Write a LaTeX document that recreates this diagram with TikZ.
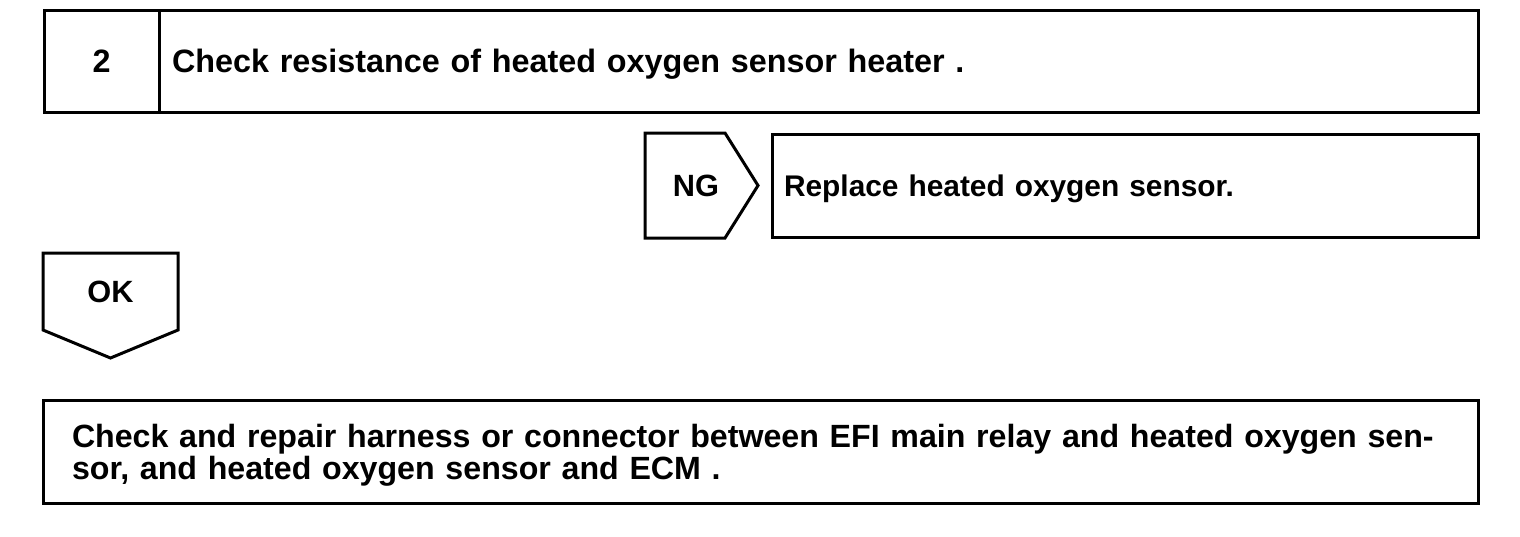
\documentclass[tikz,border=0pt]{standalone}
\usepackage{fontspec}
\setmainfont{Liberation Sans}
\usetikzlibrary{positioning}

\begin{document}
\begin{tikzpicture}[
        %Environment Cfg.
        x=0.2mm, y=-0.2mm,
        font=\bfseries\fontsize{18.4}{17}\selectfont,
        line width=0.6mm,
        %Environment Styles.
        sBox/.style={
            rectangle,
            draw=black,
            inner sep=0pt,
            outer sep=0pt,
            minimum height=20.4mm,
            text depth=0pt
            % fill=white,
        },
        tBox/.style={
            sBox,
            align=left,
            inner xsep=2.6mm
        },
        tag/.style={
            rectangle,
            inner sep=0pt,
            outer sep=0pt,
            font=\bfseries\fontsize{17.5}{17}\selectfont
        },
    ]
    \useasboundingbox (0,0) rectangle (1520,536);

    %Step header: number and title.
    \node[sBox, anchor=north west, minimum width=23mm](NUM-2) at (44,10) {2};
    \node[tBox, anchor=north west, text width=258.6mm](TITLE-2) at (NUM-2.north east)
        {Check resistance of heated oxygen sensor heater .};

    %NG branch: tag and repair box.
    \node[tBox, below left = 4.4mm and 0mm of TITLE-2.south east, text width=136.4mm,
        inner xsep=2.4mm, minimum height=20.6mm,
        font=\bfseries\fontsize{17}{17}\selectfont](FIX)
        {Replace heated oxygen sensor.};
    \node[tag, left = 9.4mm of FIX, minimum width=16mm, minimum height=21mm,
        label={[tag, xshift=2.2mm]center:NG}](NG){};
    \draw (NG.north west) -- (NG.north east) -- ([xshift=6.6mm]NG.east)
        -- (NG.south east) -- (NG.south west) -- cycle;

    %OK branch: tag and next step.
    \node[tag, below right = 28.2mm and -0.2mm of NUM-2.south west,
        minimum width=27mm, minimum height=15.4mm](OK){OK};
    \draw (OK.north west) -- (OK.north east) -- (OK.south east)
        -- ([yshift=-5.6mm]OK.south) -- (OK.south west) -- cycle;
    \node[tBox, below right = 14mm and 0mm of OK.south west, text width=275.4mm,
        inner xsep=5.8mm, minimum height=20.6mm, text depth=6.2mm,
        font=\bfseries\fontsize{18.3}{17}\selectfont](CHK)
        {Check and repair harness or connector between EFI main relay and heated oxygen sen-\\sor, and heated oxygen sensor and ECM .};
\end{tikzpicture}
\end{document}
